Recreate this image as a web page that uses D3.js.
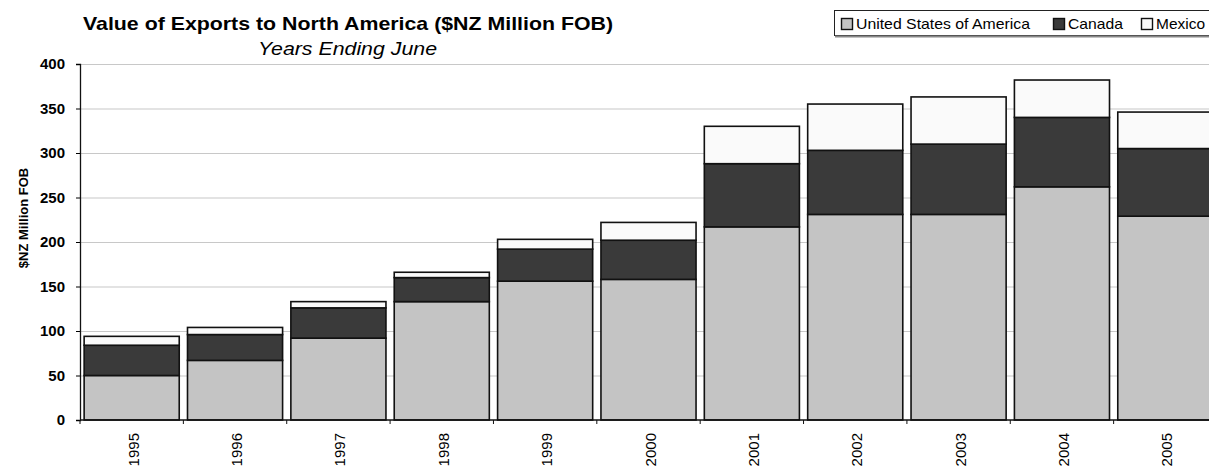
<!DOCTYPE html>
<html>
<head>
<meta charset="utf-8">
<script src="https://cdn.jsdelivr.net/npm/d3@7"></script>
<style>
  body { margin: 0; background: #fff; }
  text { font-family: Arial, "Liberation Sans", sans-serif; }
</style>
</head>
<body>
<div id="chart"></div>
<script>
// data ($NZ million FOB)
const years = ['1995', '1996', '1997', '1998', '1999', '2000', '2001', '2002', '2003', '2004', '2005'];
const usa = [50, 67, 92, 133, 156, 158, 217, 231, 231, 262, 229];
const canada = [34, 29, 34, 27, 36, 44, 71, 72, 79, 78, 76];
const mexico = [10, 8, 7, 6, 11, 20, 42, 52, 53, 42, 41];
const seriesNames = ['United States of America', 'Canada', 'Mexico'];
const seriesColors = ['#c4c4c4', '#3a3a3a', '#fafafa'];
const yTicks = [0, 50, 100, 150, 200, 250, 300, 350, 400];

const width = 1209, height = 467;
const margin = { top: 64, right: -8, bottom: 47, left: 80 };

const rows = years.map((y, i) => ({ year: y, usa: usa[i], canada: canada[i], mexico: mexico[i] }));
const stacked = d3.stack().keys(['usa', 'canada', 'mexico'])(rows);

const svg = d3.select('#chart').append('svg')
  .attr('width', width)
  .attr('height', height);

const x_scale = d3.scaleBand()
  .domain(years)
  .range([margin.left, width - margin.right])
  .paddingInner(0.08)
  .paddingOuter(0.04);
const y_scale = d3.scaleLinear()
  .domain([0, 400])
  .range([height - margin.bottom, margin.top]);

// grid lines
svg.append('g')
  .selectAll('line')
  .data(yTicks.slice(1))
  .enter().append('line')
  .attr('x1', margin.left)
  .attr('x2', width)
  .attr('y1', (d) => y_scale(d) + 0.5)
  .attr('y2', (d) => y_scale(d) + 0.5)
  .attr('stroke', '#c8c8c8')
  .attr('stroke-width', 1.2);

// bars
svg.append('g')
  .selectAll('g')
  .data(stacked)
  .enter().append('g')
  .attr('fill', (d, i) => seriesColors[i])
  .selectAll('rect')
  .data((d) => d)
  .enter().append('rect')
  .attr('x', (d) => x_scale(d.data.year))
  .attr('y', (d) => y_scale(d[1]))
  .attr('width', x_scale.bandwidth())
  .attr('height', (d) => y_scale(d[0]) - y_scale(d[1]))
  .attr('stroke', '#111')
  .attr('stroke-width', 1.6);

// y axis
const yAxis = svg.append('g')
  .attr('transform', 'translate(' + margin.left + ',0)')
  .call(d3.axisLeft(y_scale).tickValues(yTicks).tickSize(4).tickPadding(11));
yAxis.select('.domain').attr('stroke', '#111').attr('stroke-width', 1.3);
yAxis.selectAll('text')
  .attr('font-size', 15)
  .attr('font-weight', 'bold')
  .attr('fill', '#000');

// x axis, ticks at band boundaries
const xAxis = svg.append('g')
  .attr('transform', 'translate(0,' + y_scale(0) + ')');
xAxis.append('line')
  .attr('x1', margin.left).attr('x2', width)
  .attr('stroke', '#111').attr('stroke-width', 1.3);
const step = x_scale.step();
xAxis.selectAll('.tk')
  .data(years)
  .enter().append('line')
  .attr('class', 'tk')
  .attr('x1', (d) => x_scale(d) - step * 0.04)
  .attr('x2', (d) => x_scale(d) - step * 0.04)
  .attr('y1', 0).attr('y2', 4)
  .attr('stroke', '#111');
xAxis.selectAll('.lbl')
  .data(years)
  .enter().append('text')
  .attr('class', 'lbl')
  .attr('transform', (d) => 'translate(' + (x_scale(d) + x_scale.bandwidth() / 2 + 7) + ',13) rotate(-90)')
  .attr('text-anchor', 'end')
  .attr('font-size', 15)
  .text((d) => d);

// y axis title
svg.append('text')
  .attr('transform', 'translate(28,218) rotate(-90)')
  .attr('text-anchor', 'middle')
  .attr('font-size', 13)
  .attr('font-weight', 'bold')
  .text('$NZ Million FOB');

// titles
svg.append('text')
  .attr('x', 83).attr('y', 30)
  .attr('font-size', 19)
  .attr('font-weight', 'bold')
  .attr('textLength', 530)
  .attr('lengthAdjust', 'spacingAndGlyphs')
  .text('Value of Exports to North America ($NZ Million FOB)');
svg.append('text')
  .attr('x', 258).attr('y', 55)
  .attr('font-size', 18)
  .attr('font-style', 'italic')
  .attr('textLength', 179)
  .attr('lengthAdjust', 'spacingAndGlyphs')
  .text('Years Ending June');

// legend
const legend = svg.append('g');
legend.append('rect')
  .attr('x', 834.5).attr('y', 10.5)
  .attr('width', 400).attr('height', 25)
  .attr('fill', '#fff')
  .attr('stroke', '#222');
legend.append('line')
  .attr('x1', 835).attr('x2', width)
  .attr('y1', 36.5).attr('y2', 36.5)
  .attr('stroke', '#888').attr('stroke-width', 2);
const legendX = [841, 1053, 1141];
const legendW = [174, 55, 49];
const items = legend.selectAll('.item')
  .data(seriesNames)
  .enter().append('g')
  .attr('transform', (d, i) => 'translate(' + legendX[i] + ',0)');
items.append('rect')
  .attr('x', 0.5).attr('y', 18.5)
  .attr('width', 11).attr('height', 11)
  .attr('fill', (d, i) => seriesColors[i])
  .attr('stroke', '#111')
  .attr('stroke-width', 1.4);
items.append('text')
  .attr('x', 15).attr('y', 29)
  .attr('font-size', 15)
  .attr('textLength', (d, i) => legendW[i])
  .attr('lengthAdjust', 'spacingAndGlyphs')
  .text((d) => d);
</script>
</body>
</html>
